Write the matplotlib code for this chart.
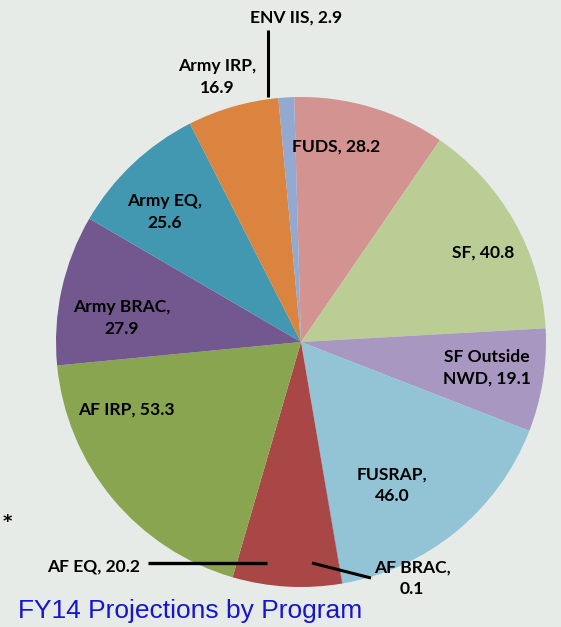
import matplotlib
matplotlib.use("Agg")
import matplotlib.pyplot as plt

# Data
categories = ["FUDS", "SF", "SF Outside NWD", "FUSRAP", "AF BRAC", "AF EQ",
              "AF IRP", "Army BRAC", "Army EQ", "Army IRP", "ENV IIS"]
values = [28.2, 40.8, 19.1, 46.0, 0.1, 20.2, 53.3, 27.9, 25.6, 16.9, 2.9]
colors = ["#d39391", "#b9cd95", "#a897c1", "#93c4d6", "#4f81bd", "#a84745",
          "#8aa54f", "#73578f", "#4298b0", "#db843f", "#94a9d0"]
title = "FY14 Projections by Program"

W, H = 561, 627
fig = plt.figure(figsize=(W / 100, H / 100), dpi=100)
fig.patch.set_facecolor("#e7ebe8")
ax = fig.add_axes([0, 0, 1, 1])

def Y(y):
    return H - y

ax.pie(values, colors=colors, startangle=91.6, counterclock=False,
       center=(301, Y(342)), radius=245, frame=True,
       wedgeprops=dict(linewidth=0))
ax.set_xlim(0, W)
ax.set_ylim(0, H)
ax.set_aspect("equal")
ax.axis("off")

lab_font = dict(family=["Lato", "DejaVu Sans"], fontweight="bold",
                fontsize=12.6, color="black", ha="center", va="center",
                linespacing=1.4)

def lab(i, x, y, two_lines=False, text=None):
    if text is None:
        name = categories[i]
        val = f"{values[i]:.1f}"
        text = f"{name},\n{val}" if two_lines else f"{name}, {val}"
    ax.text(x, Y(y), text, **lab_font)

lab(10, 296, 18)
lab(9, 217, 77, two_lines=True)
lab(0, 336, 147)
lab(1, 483, 253)
lab(2, 487, 368, text=f"SF Outside\nNWD, {values[2]:.1f}")
lab(3, 392, 485, two_lines=True)
lab(4, 412, 578, two_lines=True)
lab(5, 94, 566)
lab(6, 126, 410)
lab(7, 122, 318, two_lines=True)
lab(8, 165, 212, two_lines=True)

# leader lines
ax.plot([268, 268], [Y(30), Y(97)], color="black", lw=2.2, solid_capstyle="butt")
ax.plot([148, 267], [Y(563), Y(563)], color="black", lw=2.4, solid_capstyle="butt")
ax.plot([312, 371], [Y(563), Y(578)], color="black", lw=2.2, solid_capstyle="butt")

ax.text(7, Y(522), "*", fontsize=13, fontweight="bold", ha="center",
        va="center", color="black")
ax.text(18, Y(611), title, family=["Liberation Sans", "DejaVu Sans"],
        fontsize=19, color="#1515d0", ha="left", va="center")

fig.savefig("out.png", dpi=100, facecolor=fig.get_facecolor())
